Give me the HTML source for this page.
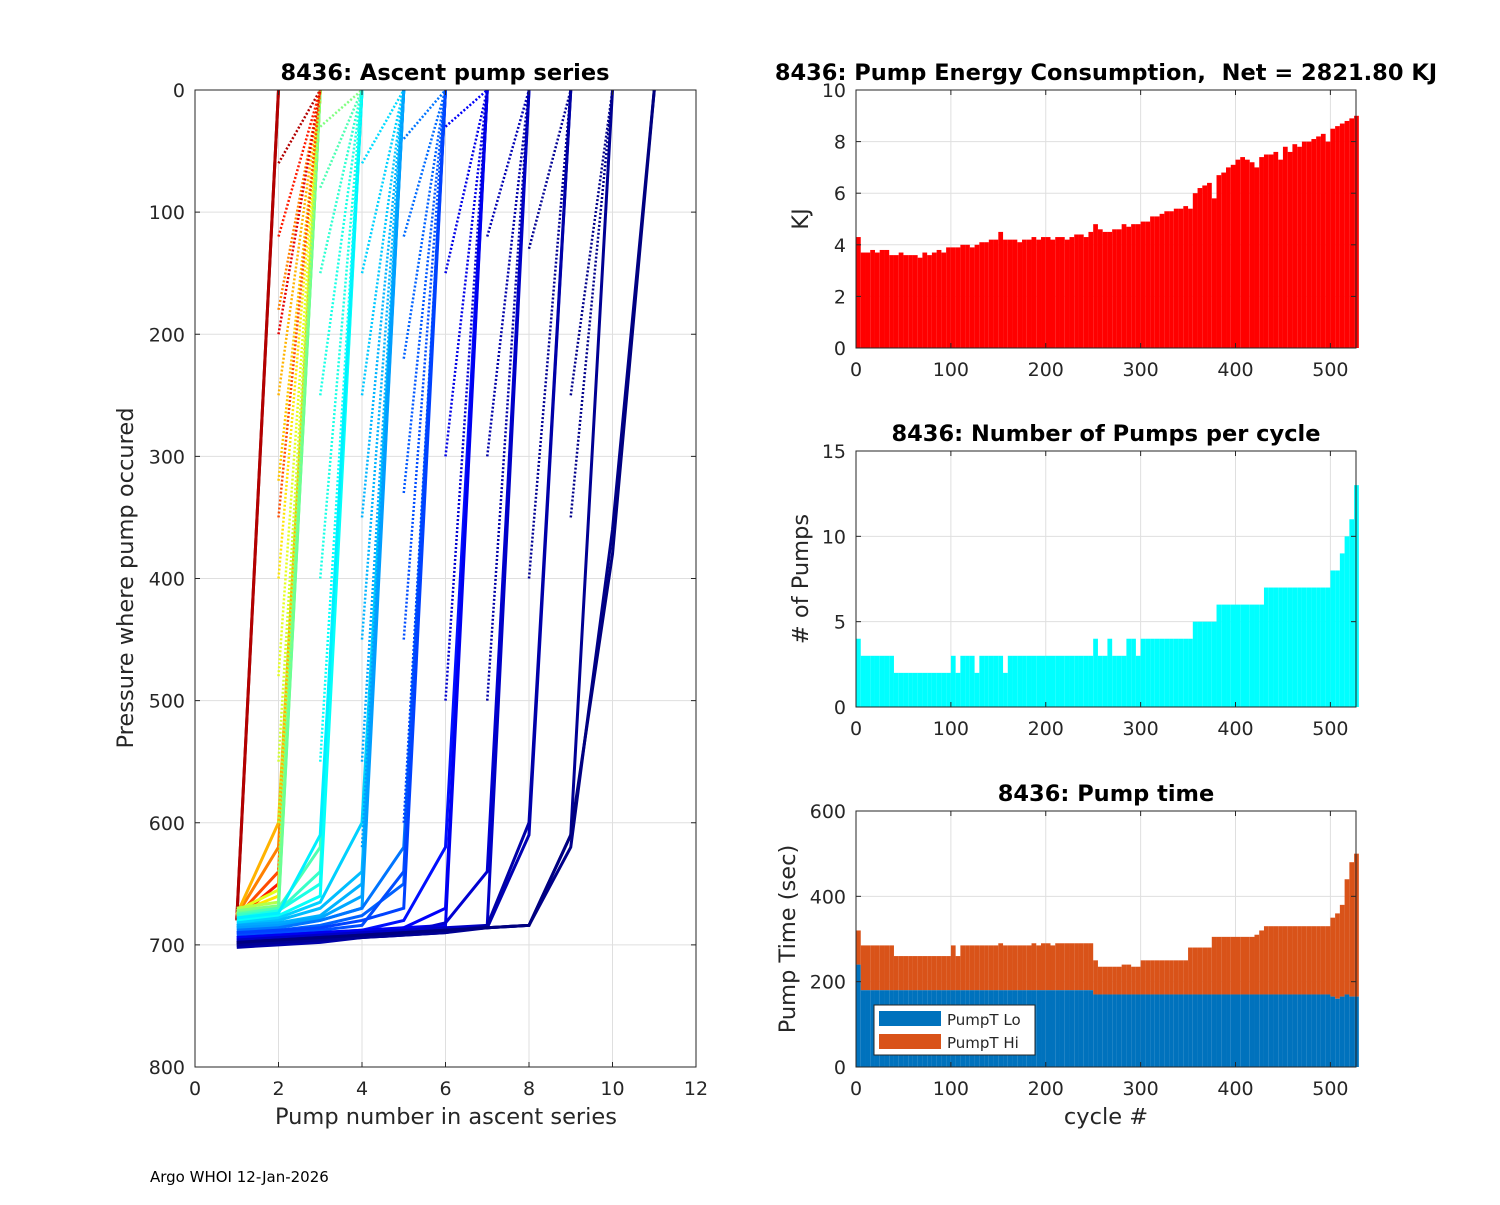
<!DOCTYPE html>
<html><head><meta charset="utf-8"><style>
body{margin:0;background:#fff;font-family:"Liberation Sans","DejaVu Sans",sans-serif}
svg text{font-family:"DejaVu Sans","Liberation Sans",sans-serif;fill:#262626}
</style></head><body>
<svg id="s" width="1500" height="1200" xmlns="http://www.w3.org/2000/svg"></svg>
<script>
// ---- data ----
const profilePressures=[
[680,0],[679,0],[678,650,0],[677,640,0],[676,620,0],[675,600,0],[674,660,0],[672,655,0],[670,665,0],[672,668,0],[674,670,0],
[675,670,620,0],[676,672,640,0],[678,672,650,0],[680,676,660,0],[678,674,610,0],
[682,678,665,600,0],[684,680,670,640,0],[686,682,676,650,0],[684,682,678,660,0],[686,684,680,670,0],
[688,686,680,670,620,0],[690,688,684,676,650,0],[692,690,688,684,640,0],[690,688,686,680,670,0],
[694,692,690,688,680,620,0],[696,694,692,690,686,670,0],[694,692,690,688,686,684,0],
[698,696,694,692,690,682,640,0],[696,694,692,690,688,686,684,0],
[700,698,696,694,690,688,686,610,0],[702,700,698,694,692,690,684,600,0],
[700,698,696,694,692,690,686,684,610,0],[698,696,694,692,690,688,686,684,620,360,0],[698,696,694,692,690,688,686,684,610,380,0]];
const profileColor=[1,0.95,0.85,0.8,0.75,0.7,0.65,0.6,0.55,0.5,0.48,0.45,0.43,0.4,0.38,0.36,0.33,0.31,0.3,0.29,0.28,0.24,0.22,0.2,0.19,0.14,0.12,0.11,0.08,0.07,0.05,0.04,0.02,0.01,0];
// secondary (dotted) segments ending at surface: from pump fanStart at pressure fanP1 to pump fanStart+1 at 0
const fanStart=[2,2,2,2,2,2,2,2,2,2,2,2,3,3,3,3,3,3,4,4,4,4,4,4,4,5,5,5,5,5,5,6,6,6,6,7,7,7,8,8,9,9];
const fanP1=[60,120,180,250,320,400,480,550,600,640,200,350,30,80,150,250,400,550,60,150,250,350,450,550,620,40,120,220,330,450,600,30,150,300,500,120,300,500,130,400,250,350];
const fanColor=[0.95,0.85,0.75,0.7,0.68,0.65,0.6,0.58,0.55,0.5,0.9,0.8,0.5,0.45,0.42,0.4,0.4,0.38,0.34,0.33,0.32,0.3,0.3,0.29,0.28,0.24,0.23,0.22,0.21,0.2,0.19,0.12,0.1,0.1,0.08,0.05,0.04,0.04,0.02,0.02,0.01,0.01];
const cycles=[];for(let i=0;i<106;i++)cycles.push(i*5);
const energy=[4.3,3.7,3.7,3.8,3.7,3.8,3.8,3.6,3.6,3.7,3.6,3.6,3.6,3.5,3.7,3.6,3.7,3.8,3.7,3.9,
3.9,3.9,4.0,4.0,3.9,4.0,4.1,4.1,4.2,4.2,4.5,4.2,4.2,4.2,4.1,4.2,4.2,4.3,4.2,4.3,
4.3,4.2,4.3,4.3,4.2,4.3,4.4,4.4,4.3,4.5,4.8,4.6,4.5,4.5,4.6,4.6,4.8,4.7,4.8,4.8,
4.9,4.9,5.1,5.1,5.2,5.3,5.3,5.4,5.4,5.5,5.4,6.0,6.2,6.3,6.4,5.8,6.7,6.8,7.0,7.1,
7.3,7.4,7.3,7.2,7.0,7.4,7.5,7.5,7.6,7.3,7.8,7.6,7.9,7.8,8.0,8.0,8.1,8.2,8.3,8.0,
8.5,8.6,8.7,8.8,8.9,9.0];
const pumps=[4,3,3,3,3,3,3,3,2,2,2,2,2,2,2,2,2,2,2,2,
3,2,3,3,3,2,3,3,3,3,3,2,3,3,3,3,3,3,3,3,
3,3,3,3,3,3,3,3,3,3,4,3,3,4,3,3,3,4,4,3,
4,4,4,4,4,4,4,4,4,4,4,5,5,5,5,5,6,6,6,6,
6,6,6,6,6,6,7,7,7,7,7,7,7,7,7,7,7,7,7,7,
8,8,9,10,11,13];
const pumpLo=[240,180,180,180,180,180,180,180,180,180,180,180,180,180,180,180,180,180,180,180,
180,180,180,180,180,180,180,180,180,180,180,180,180,180,180,180,180,180,180,180,
180,180,180,180,180,180,180,180,180,180,170,170,170,170,170,170,170,170,170,170,
170,170,170,170,170,170,170,170,170,170,170,170,170,170,170,170,170,170,170,170,
170,170,170,170,170,170,170,170,170,170,170,170,170,170,170,170,170,170,170,170,
165,160,165,170,165,165];
const pumpTotal=[320,285,285,285,285,285,285,285,260,260,260,260,260,260,260,260,260,260,260,260,
285,260,285,285,285,285,285,285,285,285,290,285,285,285,285,285,285,290,285,290,
290,285,290,290,290,290,290,290,290,290,250,235,235,235,235,235,240,240,235,235,
250,250,250,250,250,250,250,250,250,250,280,280,280,280,280,305,305,305,305,305,
305,305,305,305,310,320,330,330,330,330,330,330,330,330,330,330,330,330,330,330,
350,360,380,440,480,500];
const xTicksL=[0,2,4,6,8,10,12], yTicksL=[0,100,200,300,400,500,600,700,800];
const cycTicks=[0,100,200,300,400,500];
const eTicks=[0,2,4,6,8,10], nTicks=[0,5,10,15], tTicks=[0,200,400,600];

// ---- helpers ----
const S=document.getElementById('s'),NS='http://www.w3.org/2000/svg';
function el(t,a,p){const e=document.createElementNS(NS,t);for(const k in a)e.setAttribute(k,a[k]);(p||S).appendChild(e);return e;}
function txt(x,y,s,a,name){const e=el('text',Object.assign({x:x,y:y},a));e.textContent=s;return e;}
function jet(t){const r=Math.min(Math.max(Math.min(4*t-1.5,-4*t+4.5),0),1),g=Math.min(Math.max(Math.min(4*t-0.5,-4*t+3.5),0),1),b=Math.min(Math.max(Math.min(4*t+0.5,-4*t+2.5),0),1);return `rgb(${Math.round(r*255)},${Math.round(g*255)},${Math.round(b*255)})`;}

function axes(name,x0,x1,y0,y1,xmin,xmax,ymin,ymax,xt,yt,rev){
  const g=el('g',{});
  const sx=v=>x0+(v-xmin)/(xmax-xmin)*(x1-x0);
  const sy=rev?(v=>y0+(v-ymin)/(ymax-ymin)*(y1-y0)):(v=>y1-(v-ymin)/(ymax-ymin)*(y1-y0));
  el('rect',{x:x0,y:y0,width:x1-x0,height:y1-y0,fill:'#fff'},g);
  xt.forEach(v=>{el('line',{x1:sx(v),x2:sx(v),y1:y0,y2:y1,stroke:'#dfdfdf'},g);
    const t=txt(sx(v),y1+28,String(v),{'font-size':19,'text-anchor':'middle'},'x-tick-label');g.appendChild(t);});
  yt.forEach(v=>{el('line',{x1:x0,x2:x1,y1:sy(v),y2:sy(v),stroke:'#dfdfdf'},g);
    const t=txt(x0-10,sy(v)+7,String(v),{'font-size':19,'text-anchor':'end'},'y-tick-label');g.appendChild(t);});
  return {g,sx,sy,x0,x1,y0,y1};
}
function frame(a,xt,yt){
  const g=el('g',{});
  el('rect',{x:a.x0,y:a.y0,width:a.x1-a.x0,height:a.y1-a.y0,fill:'none',stroke:'#262626','stroke-width':1},g);
  xt.forEach(v=>{el('line',{x1:a.sx(v),x2:a.sx(v),y1:a.y1,y2:a.y1-5,stroke:'#262626'},g);el('line',{x1:a.sx(v),x2:a.sx(v),y1:a.y0,y2:a.y0+5,stroke:'#262626'},g);});
  yt.forEach(v=>{el('line',{x1:a.x0,x2:a.x0+5,y1:a.sy(v),y2:a.sy(v),stroke:'#262626'},g);el('line',{x1:a.x1,x2:a.x1-5,y1:a.sy(v),y2:a.sy(v),stroke:'#262626'},g);});
}

// ---- left plot ----
const L=axes('ascent-pump-axes',195,696,90,1067,0,12,0,800,xTicksL,yTicksL,true);
const cp=el('clipPath',{id:'cl'});el('rect',{x:195,y:90,width:501,height:977},cp);
const lg=el('g',{'clip-path':'url(#cl)'},L.g);
profilePressures.forEach((p,i)=>{
  const pts=p.map((v,j)=>L.sx(j+1)+','+L.sy(v)).join(' ');
  const e=el('polyline',{points:pts,fill:'none',stroke:jet(profileColor[i]),'stroke-width':3},lg);
  
});
fanStart.forEach((s,i)=>{
  const e=el('line',{x1:L.sx(s),y1:L.sy(fanP1[i]),x2:L.sx(s+1),y2:L.sy(0),stroke:jet(fanColor[i]),'stroke-width':2.5,'stroke-dasharray':'2,2'},lg);
  
});
frame(L,xTicksL,yTicksL);
txt(445,80,'8436: Ascent pump series',{'font-size':22.5,'font-weight':'bold','text-anchor':'middle'},'left-title').style.fill='#000';
txt(446,1124,'Pump number in ascent series',{'font-size':22.5,'text-anchor':'middle'},'x-axis-title');
txt(0,0,'Pressure where pump occured',{'font-size':22.5,'text-anchor':'middle',transform:'translate(133,578) rotate(-90)'},'y-axis-title');
txt(150,1182,'Argo WHOI 12-Jan-2026',{'font-size':15},'footer-note').style.fill='#000';

// ---- bar panels ----
const XMAX=527;
function barPanel(name,y0,y1,ymax,yt,title,ylabel,ylx){
  const a=axes(name,856,1356,y0,y1,0,XMAX,0,ymax,cycTicks,yt,false);
  const t=txt(1106,y0-10,title,{'font-size':22.5,'font-weight':'bold','text-anchor':'middle'},'panel-title');t.style.fill='#000';t.style.whiteSpace='pre';
  txt(0,0,ylabel,{'font-size':22.5,'text-anchor':'middle',transform:`translate(${ylx},${(y0+y1)/2}) rotate(-90)`},'y-axis-title');
  return a;
}
const bw=5*500/XMAX;
const A=barPanel('energy-axes',90,348,10,eTicks,'8436: Pump Energy Consumption,  Net = 2821.80 KJ','KJ',808);
cycles.forEach((c,i)=>{const y=A.sy(energy[i]);const r=el('rect',{x:A.sx(c),y:y,width:bw,height:A.sy(0)-y,fill:'#ff0000'},A.g);
});
frame(A,cycTicks,eTicks);
const B=barPanel('pumps-axes',451,707,15,nTicks,'8436: Number of Pumps per cycle','# of Pumps',808);
cycles.forEach((c,i)=>{const y=B.sy(pumps[i]);const r=el('rect',{x:B.sx(c),y:y,width:bw,height:B.sy(0)-y,fill:'#00ffff'},B.g);
});
frame(B,cycTicks,nTicks);
const C=barPanel('pumptime-axes',811,1067,600,tTicks,'8436: Pump time','Pump Time (sec)',795);
cycles.forEach((c,i)=>{const yl=C.sy(pumpLo[i]),yt=C.sy(pumpTotal[i]);
const h=el('rect',{x:C.sx(c),y:yt,width:bw,height:yl-yt,fill:'#d95319'},C.g);
const l=el('rect',{x:C.sx(c),y:yl,width:bw,height:C.sy(0)-yl,fill:'#0072bd'},C.g);});
frame(C,cycTicks,tTicks);
txt(1106,1124,'cycle #',{'font-size':22.5,'text-anchor':'middle'},'x-axis-title');
const lgd=el('g',{});
el('rect',{x:874,y:1005,width:161,height:50,fill:'#fff',stroke:'#262626'},lgd);
el('rect',{x:879,y:1011,width:62,height:15,fill:'#0072bd'},lgd);
el('rect',{x:879,y:1034,width:62,height:15,fill:'#d95319'},lgd);
lgd.appendChild(txt(947,1025,'PumpT Lo',{'font-size':15},'legend-entry-lo'));
lgd.appendChild(txt(947,1048,'PumpT Hi',{'font-size':15},'legend-entry-hi'));
</script>
</body></html>
